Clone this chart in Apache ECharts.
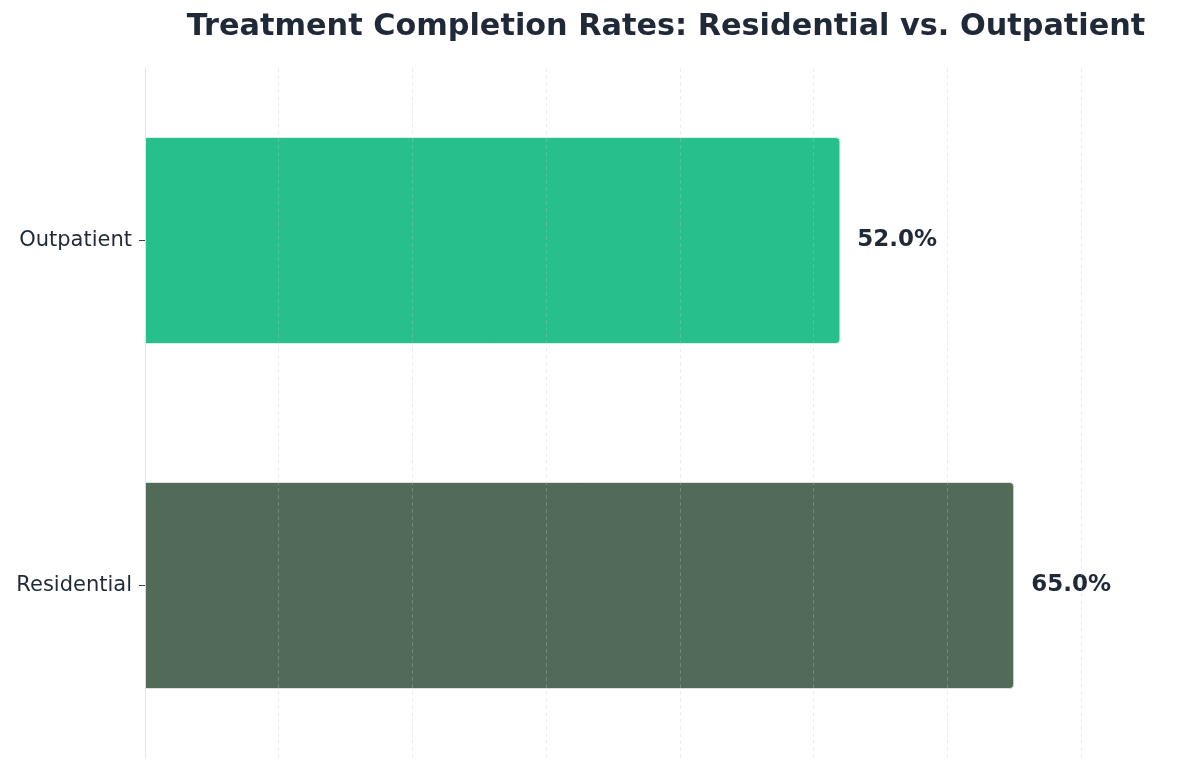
<!DOCTYPE html>
<html><head><meta charset="utf-8">
<script src="https://cdn.jsdelivr.net/npm/echarts@6/dist/echarts.min.js"></script>
<style>html,body{margin:0;padding:0;background:#fff}#c{width:1200px;height:769px}</style>
</head><body><div id="c"></div>
<script>
const categories = ["Residential", "Outpatient"];
const rates = [65.0, 52.0];
const barColors = ["#526a58", "#27bf8c"];
const titleText = "Treatment Completion Rates: Residential vs. Outpatient";

const chart = echarts.init(document.getElementById('c'));
chart.setOption({
  backgroundColor: '#ffffff',
  animation: false,
  title: {
    text: titleText,
    left: 661, top: 7, textAlign: 'center',
    textStyle: { fontFamily: 'DejaVu Sans', fontSize: 30.3, fontWeight: 'bold', color: '#1f2937' }
  },
  grid: { left: 145, right: 12, top: 68, bottom: 11, containLabel: false },
  xAxis: {
    type: 'value', min: 0, max: 78, interval: 10, z: 5,
    axisLabel: { show: false }, axisTick: { show: false }, axisLine: { show: false },
    splitLine: { show: true, showMaxLine: false, showMinLine: false,
      lineStyle: { color: 'rgba(190,200,195,0.32)', type: [4, 3], width: 1 } }
  },
  yAxis: {
    type: 'category', data: categories,
    axisLine: { show: true, lineStyle: { color: '#e5e7eb', width: 1 } },
    axisTick: { show: true, length: 6, alignWithLabel: true, lineStyle: { color: '#374151' } },
    axisLabel: { fontFamily: 'DejaVu Sans', fontSize: 21, color: '#1f2937', margin: 13 },
    splitLine: { show: false }
  },
  series: [{
    type: 'bar', barWidth: '60%',
    data: rates.map((v, i) => ({ value: v, itemStyle: { color: barColors[i] } })),
    itemStyle: { borderRadius: [0, 4, 4, 0], borderColor: 'rgba(255,255,255,0.6)', borderWidth: 1 },
    label: {
      show: true, position: 'right', distance: 17,
      formatter: p => p.value.toFixed(1) + '%',
      fontFamily: 'DejaVu Sans', fontSize: 23, fontWeight: 'bold', color: '#1f2937'
    }
  }]
});
</script></body></html>
